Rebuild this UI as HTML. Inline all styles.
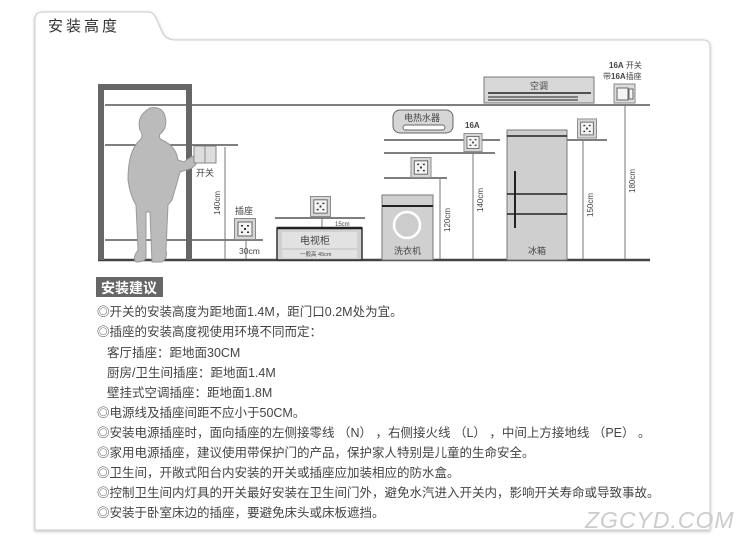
<!DOCTYPE html>
<html><head><meta charset="utf-8"><style>
body{margin:0;background:#fff;width:750px;height:548px;overflow:hidden;font-family:"Liberation Sans","Noto Sans CJK SC",sans-serif}
.t{position:absolute;left:97px;font-size:12.5px;color:#444;white-space:nowrap;line-height:14px}
</style></head><body>
<svg width="750" height="548" style="position:absolute;left:0;top:0" xmlns="http://www.w3.org/2000/svg">
<defs>
<symbol id="sk" viewBox="0 0 22 22">
<rect x="0.5" y="0.5" width="21" height="21" fill="#d6d6d6" stroke="#888"/>
<rect x="4" y="4" width="14" height="14" fill="#f4f4f4" stroke="#666"/>
<rect x="7" y="7" width="2" height="1.5" fill="#333"/><rect x="13" y="7" width="2" height="1.5" fill="#333"/>
<rect x="10" y="10" width="2" height="2" fill="#333"/>
<rect x="7" y="13.5" width="2" height="1.5" fill="#333"/><rect x="13" y="13.5" width="2" height="1.5" fill="#333"/>
</symbol>
<filter id="sh"><feDropShadow dx="0" dy="1" stdDeviation="1.5" flood-color="#000" flood-opacity="0.25"/></filter>
</defs>
<path d="M35 530 L35 20 Q35 12 43 12 L148 12 Q153 12 156 18 L162 32 Q166 40 175 40 L703 40 Q710 40 710 47 L710 530 Z" fill="#fff" stroke="#ccc" filter="url(#sh)"/>
<text x="48" y="31" font-size="15" fill="#333" letter-spacing="3" font-family="Liberation Sans,Noto Sans CJK SC,sans-serif">安装高度</text>
<g stroke="#555" stroke-width="1.5">
<line x1="105" y1="105" x2="650" y2="105"/>
<line x1="105" y1="145" x2="238" y2="145"/>
<line x1="105" y1="240" x2="263" y2="240"/>
<line x1="275" y1="218" x2="365" y2="218"/>
<line x1="384" y1="140" x2="500" y2="140"/>
<line x1="384" y1="153" x2="495" y2="153"/>
<line x1="384" y1="178" x2="447" y2="178"/>
<line x1="567" y1="140" x2="607" y2="140"/>
</g>
<line x1="98" y1="260" x2="650" y2="260" stroke="#444" stroke-width="2.5"/>
<path d="M98 260 V84 H192 V260 H186 V90 H104 V260 Z" fill="#666"/>
<path d="M150 108 Q162 106 165 116 Q168 128 160 134 Q158 138 162 140 Q176 146 178 160 L184 162 Q194 154 197 156 Q200 162 192 168 L180 172 Q175 190 172 200 L168 205 L166 250 Q168 258 162 262 L152 262 L150 212 L146 212 L146 258 Q144 262 136 262 Q132 258 138 250 L136 205 Q130 195 128 180 Q128 150 140 140 Q144 136 140 130 Q136 116 150 108 Z" fill="#bbb" stroke="#999"/>
<rect x="194" y="146" width="22" height="17" fill="#ddd" stroke="#888"/><line x1="205" y1="146" x2="205" y2="163" stroke="#888"/>
<g stroke="#777" stroke-width="1">
<line x1="225" y1="147" x2="225" y2="259"/><line x1="246" y1="241" x2="246" y2="259"/>
<line x1="322" y1="218" x2="322" y2="228"/>
<line x1="440" y1="179" x2="440" y2="259"/><line x1="473" y1="153" x2="473" y2="259"/>
<line x1="583" y1="141" x2="583" y2="259"/><line x1="625" y1="105" x2="625" y2="259"/>
</g>
<use href="#sk" x="234" y="218" width="22" height="22"/>
<use href="#sk" x="310" y="196" width="21" height="21"/>
<use href="#sk" x="410" y="157" width="22" height="21"/>
<use href="#sk" x="463" y="133" width="20" height="19"/>
<use href="#sk" x="577" y="118" width="20" height="21"/>
<rect x="614" y="84" width="21" height="19" fill="#ddd" stroke="#888"/><rect x="617" y="88" width="11" height="12" fill="#f4f4f4" stroke="#666"/><rect x="629" y="89" width="4" height="10" fill="#f4f4f4" stroke="#666"/>
<rect x="277" y="228" width="85" height="32" fill="#d0d0d0" stroke="#333" stroke-width="1.5"/>
<line x1="277" y1="228" x2="362" y2="228" stroke="#222" stroke-width="2.5"/>
<rect x="282" y="232" width="75" height="16" fill="#e2e2e2"/><rect x="282" y="250" width="75" height="8" fill="#e2e2e2"/>
<rect x="393" y="110" width="60" height="23" rx="7" fill="#d6d6d6" stroke="#666"/>
<rect x="403" y="125" width="42" height="5" rx="2.5" fill="#fff" stroke="#666"/>
<rect x="382" y="195" width="51" height="65" fill="#d0d0d0" stroke="#777"/>
<line x1="382" y1="206" x2="433" y2="206" stroke="#222" stroke-width="2"/>
<circle cx="407" cy="225" r="13" fill="#ccc" stroke="#fff" stroke-width="2.5"/>
<rect x="507" y="130" width="60" height="130" fill="#cfcfcf" stroke="#777"/>
<line x1="507" y1="136" x2="567" y2="136" stroke="#222" stroke-width="1.5"/>
<line x1="507" y1="194" x2="567" y2="194" stroke="#222" stroke-width="1.5"/>
<line x1="507" y1="214" x2="567" y2="214" stroke="#222" stroke-width="1.5"/>
<line x1="515" y1="171" x2="515" y2="228" stroke="#222" stroke-width="2"/>
<rect x="484" y="77" width="110" height="26" fill="#d8d8d8" stroke="#777"/>
<line x1="488" y1="93" x2="591" y2="93" stroke="#222" stroke-width="1.5"/>
<line x1="488" y1="97" x2="578" y2="97" stroke="#222" stroke-width="1"/>
<line x1="488" y1="100" x2="578" y2="100" stroke="#222" stroke-width="1"/>
<g font-size="9" fill="#444" font-family="Liberation Sans,Noto Sans CJK SC,sans-serif">
<text x="196" y="176">开关</text>
<text x="235" y="214">插座</text>
<text x="239" y="254" font-size="8.5">30cm</text>
<text x="335" y="226" font-size="6">15cm</text>
<text x="300" y="244" font-size="10">电视柜</text>
<text x="300" y="256" font-size="5.5">一般高 45cm</text>
<text x="404" y="121" font-size="9">电热水器</text>
<text x="465" y="128" font-size="8" font-weight="bold">16A</text>
<text x="394" y="254" font-size="9">洗衣机</text>
<text x="528" y="254" font-size="9">冰箱</text>
<text x="530" y="89" font-size="9">空调</text>
<text x="609" y="68" font-size="8"><tspan font-weight="bold">16A</tspan> 开关</text>
<text x="603" y="79" font-size="8">带<tspan font-weight="bold">16A</tspan>插座</text>
</g>
<g font-size="8" fill="#444" font-family="Liberation Sans,sans-serif">
<text transform="translate(220,215) rotate(-90)">140cm</text>
<text transform="translate(450,232) rotate(-90)">120cm</text>
<text transform="translate(483,212) rotate(-90)">140cm</text>
<text transform="translate(593,217) rotate(-90)">150cm</text>
<text transform="translate(635,193) rotate(-90)">180cm</text>
</g>
<rect x="96" y="277" width="67" height="20" fill="#666"/>
<text x="101" y="293" font-size="14" font-weight="bold" fill="#fff" font-family="Liberation Sans,Noto Sans CJK SC,sans-serif">安装建议</text>
<text x="585" y="528" font-size="23" fill="#ccc" font-style="italic" font-family="Liberation Sans,sans-serif" letter-spacing="1">ZGCYD.COM</text>
</svg>
<div class="t" style="top:305px">◎开关的安装高度为距地面1.4M，距门口0.2M处为宜。</div>
<div class="t" style="top:325px">◎插座的安装高度视使用环境不同而定：</div>
<div class="t" style="top:346px;left:107px">客厅插座：距地面30CM</div>
<div class="t" style="top:366px;left:107px">厨房/卫生间插座：距地面1.4M</div>
<div class="t" style="top:386px;left:107px">壁挂式空调插座：距地面1.8M</div>
<div class="t" style="top:406px">◎电源线及插座间距不应小于50CM。</div>
<div class="t" style="top:426px">◎安装电源插座时，面向插座的左侧接零线&nbsp;（N）&nbsp;，右侧接火线&nbsp;（L）&nbsp;，中间上方接地线&nbsp;（PE）&nbsp;。</div>
<div class="t" style="top:446px">◎家用电源插座，建议使用带保护门的产品，保护家人特别是儿童的生命安全。</div>
<div class="t" style="top:466px">◎卫生间，开敞式阳台内安装的开关或插座应加装相应的防水盒。</div>
<div class="t" style="top:486px">◎控制卫生间内灯具的开关最好安装在卫生间门外，避免水汽进入开关内，影响开关寿命或导致事故。</div>
<div class="t" style="top:506px">◎安装于卧室床边的插座，要避免床头或床板遮挡。</div>
</body></html>
